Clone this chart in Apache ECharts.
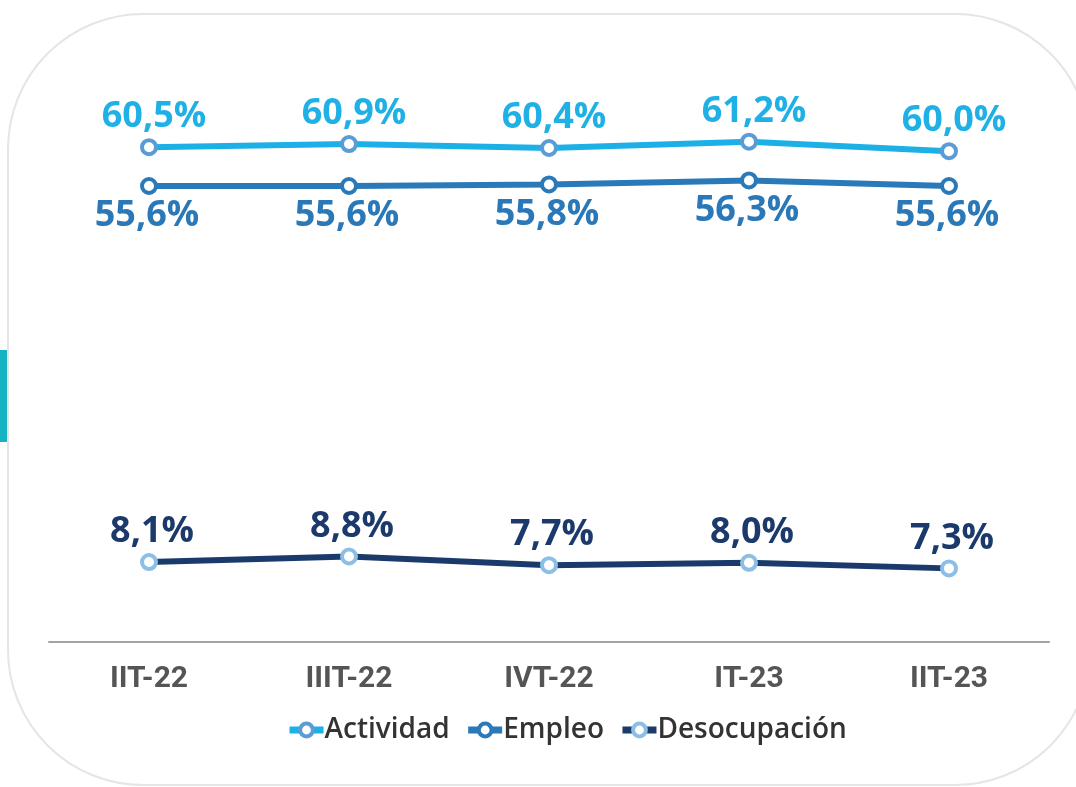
<!DOCTYPE html>
<html>
<head>
<meta charset="utf-8">
<script src="https://cdn.jsdelivr.net/npm/echarts@6/dist/echarts.min.js"></script>
<style>
html,body{margin:0;padding:0;background:#fff;}
#chart{width:1076px;height:787px;}
</style>
</head>
<body>
<div id="chart"></div>
<script>
const categories = ['IIT-22', 'IIIT-22', 'IVT-22', 'IT-23', 'IIT-23'];
const actividad = [60.5, 60.9, 60.4, 61.2, 60.0];
const empleo = [55.6, 55.6, 55.8, 56.3, 55.6];
const desocupacion = [8.1, 8.8, 7.7, 8.0, 7.3];
const seriesNames = ['Actividad', 'Empleo', 'Desocupación'];

const chart = echarts.init(document.getElementById('chart'), null, {renderer: 'canvas'});
const fmt = p => p.value.toFixed(1).replace('.', ',') + '%';
const labelFont = {fontFamily: '"Open Sans", sans-serif', fontWeight: 'bold', fontSize: 36};

function mkSeries(name, data, lineColor, symColor, labelColor, pos, offset) {
  return {
    name: name,
    type: 'line',
    data: data,
    symbol: 'circle',
    symbolSize: 14,
    lineStyle: {color: lineColor, width: 6},
    itemStyle: {color: '#ffffff', borderColor: symColor, borderWidth: 4},
    label: Object.assign({
      show: true, position: pos, distance: 3, offset: offset,
      color: labelColor, formatter: fmt
    }, labelFont),
    emphasis: {disabled: true},
    z: 3
  };
}

chart.setOption({
  animation: false,
  backgroundColor: '#ffffff',
  grid: {left: 49, right: 27, top: 72, bottom: 145},
  xAxis: {
    type: 'category',
    data: categories,
    boundaryGap: true,
    axisLine: {onZero: false, lineStyle: {color: '#a3a3a3', width: 2}},
    axisTick: {show: false},
    axisLabel: {margin: 22, color: '#555555', fontFamily: 'Roboto, sans-serif', fontWeight: 'bold', fontSize: 30}
  },
  yAxis: {
    type: 'value', min: -2, max: 70, show: false,
    splitLine: {show: false}
  },
  legend: {
    data: seriesNames,
    top: 711,
    left: 281,
    itemWidth: 34,
    itemHeight: 16,
    itemGap: 15,
    lineStyle: {width: 7},
    itemStyle: {borderWidth: 4},
    textStyle: {color: '#333333', fontFamily: '"Open Sans", sans-serif', fontWeight: 600, fontSize: 28, padding: [0,0,0,-4]}
  },
  graphic: [
    {type: 'rect', shape: {x: 8, y: 14, width: 1082, height: 771, r: 135},
     style: {fill: 'none', stroke: '#e5e5e5', lineWidth: 2}, silent: true, z: 0},
    {type: 'rect', shape: {x: 0, y: 350, width: 7, height: 92},
     style: {fill: '#16b3c3'}, silent: true, z: 1}
  ],
  series: [
    mkSeries('Actividad', actividad, '#1db0e6', '#5a9cd6', '#1fb1e6', 'top', [5, 0]),
    mkSeries('Empleo', empleo, '#2a79b9', '#2a79b9', '#2b78b8', 'bottom', [-2, 0]),
    mkSeries('Desocupación', desocupacion, '#1b3a6c', '#8dbfe6', '#1b3a6b', 'top', [3, 0])
  ]
});
</script>
</body>
</html>
